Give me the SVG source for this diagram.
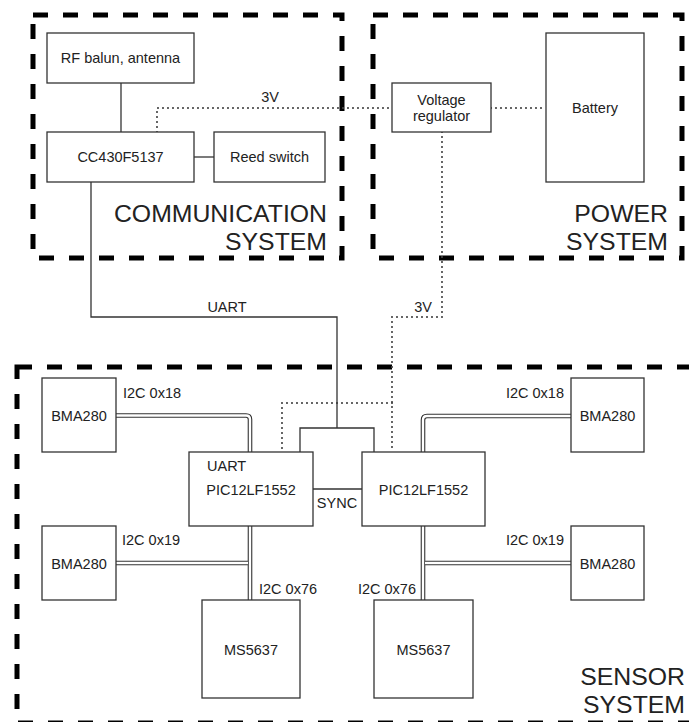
<svg xmlns="http://www.w3.org/2000/svg" width="689" height="722" viewBox="0 0 689 722">
<style>
.bg{fill:#fff}
.box{fill:#fff;stroke:#333;stroke-width:1.3}
.grp{fill:none;stroke:#000;stroke-width:5;stroke-dasharray:15,15}
.t{font-family:"Liberation Sans",Arial,sans-serif;font-size:14.5px;fill:#222}
.big{font-family:"Liberation Sans",Arial,sans-serif;font-size:24.8px;fill:#222;text-anchor:end}
.c{text-anchor:middle}
.e{text-anchor:end}
.ln{fill:none;stroke:#333;stroke-width:1.3}
.dot{fill:none;stroke:#444;stroke-width:2.2;stroke-linecap:round;stroke-dasharray:0,5}
.lk1{fill:none;stroke:#333;stroke-width:4.6}
.lk2{fill:none;stroke:#fff;stroke-width:2.4}
</style>
<rect class="bg" x="0" y="0" width="689" height="722"/>
<g id="groups">
<rect class="grp" x="33" y="15" width="309" height="243"/>
<rect class="grp" x="373" y="15" width="309" height="243"/>
<rect class="grp" x="17" y="367" width="685" height="356"/>
<text class="big" x="327" y="222">COMMUNICATION</text>
<text class="big" x="327" y="250">SYSTEM</text>
<text class="big" x="668" y="222">POWER</text>
<text class="big" x="668" y="250">SYSTEM</text>
<text class="big" x="685" y="685">SENSOR</text>
<text class="big" x="685" y="713">SYSTEM</text>
</g>
<g id="connectors">
<path class="ln" d="M121,83 V132"/>
<path class="ln" d="M194,157 H214"/>
<path class="dot" d="M157,132 V108 H392"/>
<text class="t c" x="270" y="102">3V</text>
<path class="dot" d="M491,108 H546"/>
<path class="dot" d="M442,132 V317 H392 V452"/>
<text class="t e" x="432" y="312">3V</text>
<path class="dot" d="M392,403 H282 V452"/>
<path class="ln" d="M91,182 V317 H337 V428"/>
<path class="ln" d="M300,452 V428 H374 V452"/>
<text class="t c" x="227" y="312">UART</text>
<path class="ln" d="M313,489 H362"/>
<text class="t c" x="337" y="508">SYNC</text>
<g>
<path class="lk1" d="M116,415.5 H246 Q250,415.5 250,419.5 V452"/>
<path class="lk1" d="M571,416 H427 Q423,416 423,420 V452"/>
<path class="lk1" d="M250,526 V600"/>
<path class="lk1" d="M423,526 V600"/>
<path class="lk1" d="M116,563 H250"/>
<path class="lk1" d="M571,563 H423"/>
<path class="lk2" d="M116,415.5 H246 Q250,415.5 250,419.5 V452"/>
<path class="lk2" d="M571,416 H427 Q423,416 423,420 V452"/>
<path class="lk2" d="M250,526 V600"/>
<path class="lk2" d="M423,526 V600"/>
<path class="lk2" d="M116,563 H248"/>
<path class="lk2" d="M571,563 H425"/>
</g>
<text class="t" x="123" y="398">I2C 0x18</text>
<text class="t e" x="564" y="398">I2C 0x18</text>
<text class="t" x="122" y="545">I2C 0x19</text>
<text class="t e" x="564" y="545">I2C 0x19</text>
<text class="t" x="259" y="594">I2C 0x76</text>
<text class="t e" x="416" y="594">I2C 0x76</text>
</g>
<g id="rf"><rect class="box" x="47" y="33" width="147" height="50"/><text class="t c" x="120.5" y="63">RF balun, antenna</text></g>
<g id="cc430"><rect class="box" x="47" y="132" width="147" height="50"/><text class="t c" x="120.5" y="162">CC430F5137</text></g>
<g id="reed"><rect class="box" x="214" y="132" width="111" height="50"/><text class="t c" x="269.5" y="162">Reed switch</text></g>
<g id="vreg"><rect class="box" x="392" y="83" width="99" height="49"/><text class="t c" x="441.5" y="105">Voltage</text><text class="t c" x="441.5" y="121">regulator</text></g>
<g id="battery"><rect class="box" x="546" y="33" width="98" height="149"/><text class="t c" x="595" y="113">Battery</text></g>
<g id="pic1"><rect class="box" x="189" y="452" width="124" height="74"/><text class="t" x="207" y="471">UART</text><text class="t c" x="251" y="495">PIC12LF1552</text></g>
<g id="pic2"><rect class="box" x="362" y="452" width="123" height="74"/><text class="t c" x="423.5" y="495">PIC12LF1552</text></g>
<g id="bma_tl"><rect class="box" x="42" y="378" width="74" height="74"/><text class="t c" x="79" y="421">BMA280</text></g>
<g id="bma_tr"><rect class="box" x="571" y="378" width="73" height="74"/><text class="t c" x="607.5" y="421">BMA280</text></g>
<g id="bma_bl"><rect class="box" x="42" y="526" width="74" height="74"/><text class="t c" x="79" y="569">BMA280</text></g>
<g id="bma_br"><rect class="box" x="571" y="526" width="73" height="74"/><text class="t c" x="607.5" y="569">BMA280</text></g>
<g id="ms_l"><rect class="box" x="202" y="600" width="98" height="98"/><text class="t c" x="251" y="655">MS5637</text></g>
<g id="ms_r"><rect class="box" x="374" y="600" width="99" height="98"/><text class="t c" x="423.5" y="655">MS5637</text></g>
</svg>
